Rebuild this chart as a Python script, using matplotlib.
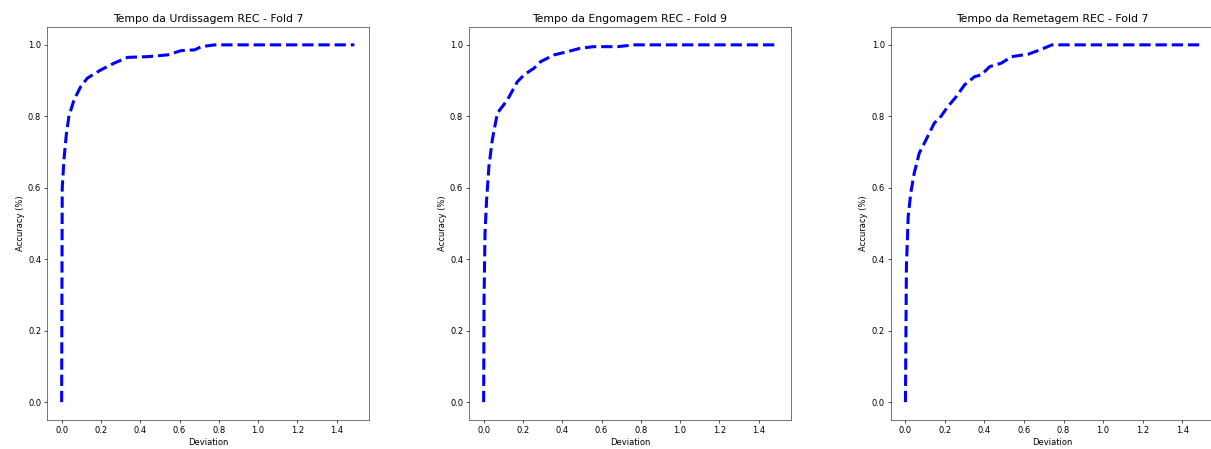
import numpy as np
import matplotlib
matplotlib.use('Agg')
import matplotlib.pyplot as plt

# 图片是缩小过的笔记本输出，字号和线宽按约 0.6 倍缩放
S = 0.6
plt.rcParams['font.size'] = 10 * S
plt.rcParams['axes.linewidth'] = 0.8 * S
plt.rcParams['xtick.major.width'] = 0.8 * S
plt.rcParams['ytick.major.width'] = 0.8 * S
plt.rcParams['xtick.major.size'] = 3.5 * S
plt.rcParams['ytick.major.size'] = 3.5 * S
plt.rcParams['xtick.major.pad'] = 3.5 * S
plt.rcParams['ytick.major.pad'] = 3.5 * S
plt.rcParams['axes.labelpad'] = 4 * S
plt.rcParams['axes.titlepad'] = 6 * S

# ========== 数据 ==========
titles = ['Tempo da Urdissagem REC - Fold 7',
          'Tempo da Engomagem REC - Fold 9',
          'Tempo da Remetagem REC - Fold 7']

dev_urd = [0.0, 0.003, 0.012, 0.024, 0.037, 0.063, 0.097, 0.131, 0.2, 0.268,
           0.336, 0.438, 0.54, 0.609, 0.677, 0.711, 0.78, 1.49]
acc_urd = [0.0, 0.6, 0.68, 0.75, 0.80, 0.846, 0.883, 0.907, 0.93, 0.949,
           0.965, 0.967, 0.972, 0.984, 0.986, 0.995, 1.0, 1.0]

dev_eng = [0.0, 0.002, 0.007, 0.015, 0.027, 0.044, 0.07, 0.121, 0.172, 0.206,
           0.257, 0.29, 0.359, 0.427, 0.495, 0.563, 0.682, 0.767, 1.49]
acc_eng = [0.0, 0.286, 0.473, 0.566, 0.66, 0.734, 0.809, 0.846, 0.897, 0.916,
           0.935, 0.953, 0.972, 0.981, 0.991, 0.995, 0.995, 1.0, 1.0]

dev_rem = [0.0, 0.005, 0.014, 0.027, 0.044, 0.07, 0.104, 0.146, 0.18, 0.214,
           0.257, 0.299, 0.35, 0.384, 0.426, 0.486, 0.537, 0.622, 0.69, 0.741, 1.49]
acc_rem = [0.0, 0.38, 0.52, 0.585, 0.64, 0.697, 0.734, 0.781, 0.8, 0.827,
           0.855, 0.888, 0.911, 0.916, 0.939, 0.949, 0.967, 0.974, 0.988, 1.0, 1.0]

series = [(dev_urd, acc_urd), (dev_eng, acc_eng), (dev_rem, acc_rem)]

# ========== 绘图 ==========
W, H = 1211, 449
fig = plt.figure(figsize=(W / 100, H / 100), dpi=100)

lefts = [47, 469, 890.7]    # 像素位置
widths = [322, 322, 324]    # 第三个子图右侧被裁掉
ax_top, ax_bot = 27, 420

for left, ax_w, title, (dev, acc) in zip(lefts, widths, titles, series):
    ax = fig.add_axes([left / W, 1 - ax_bot / H, ax_w / W, (ax_bot - ax_top) / H])
    ax.plot(dev, acc, color='blue', linestyle='--', linewidth=2.2)
    ax.set_title(title, fontsize=7.8)
    ax.set_xlabel('Deviation')
    ax.set_ylabel('Accuracy (%)')
    for sp in ax.spines.values():
        sp.set_color('#333333')

fig.savefig('out.png', dpi=100)
